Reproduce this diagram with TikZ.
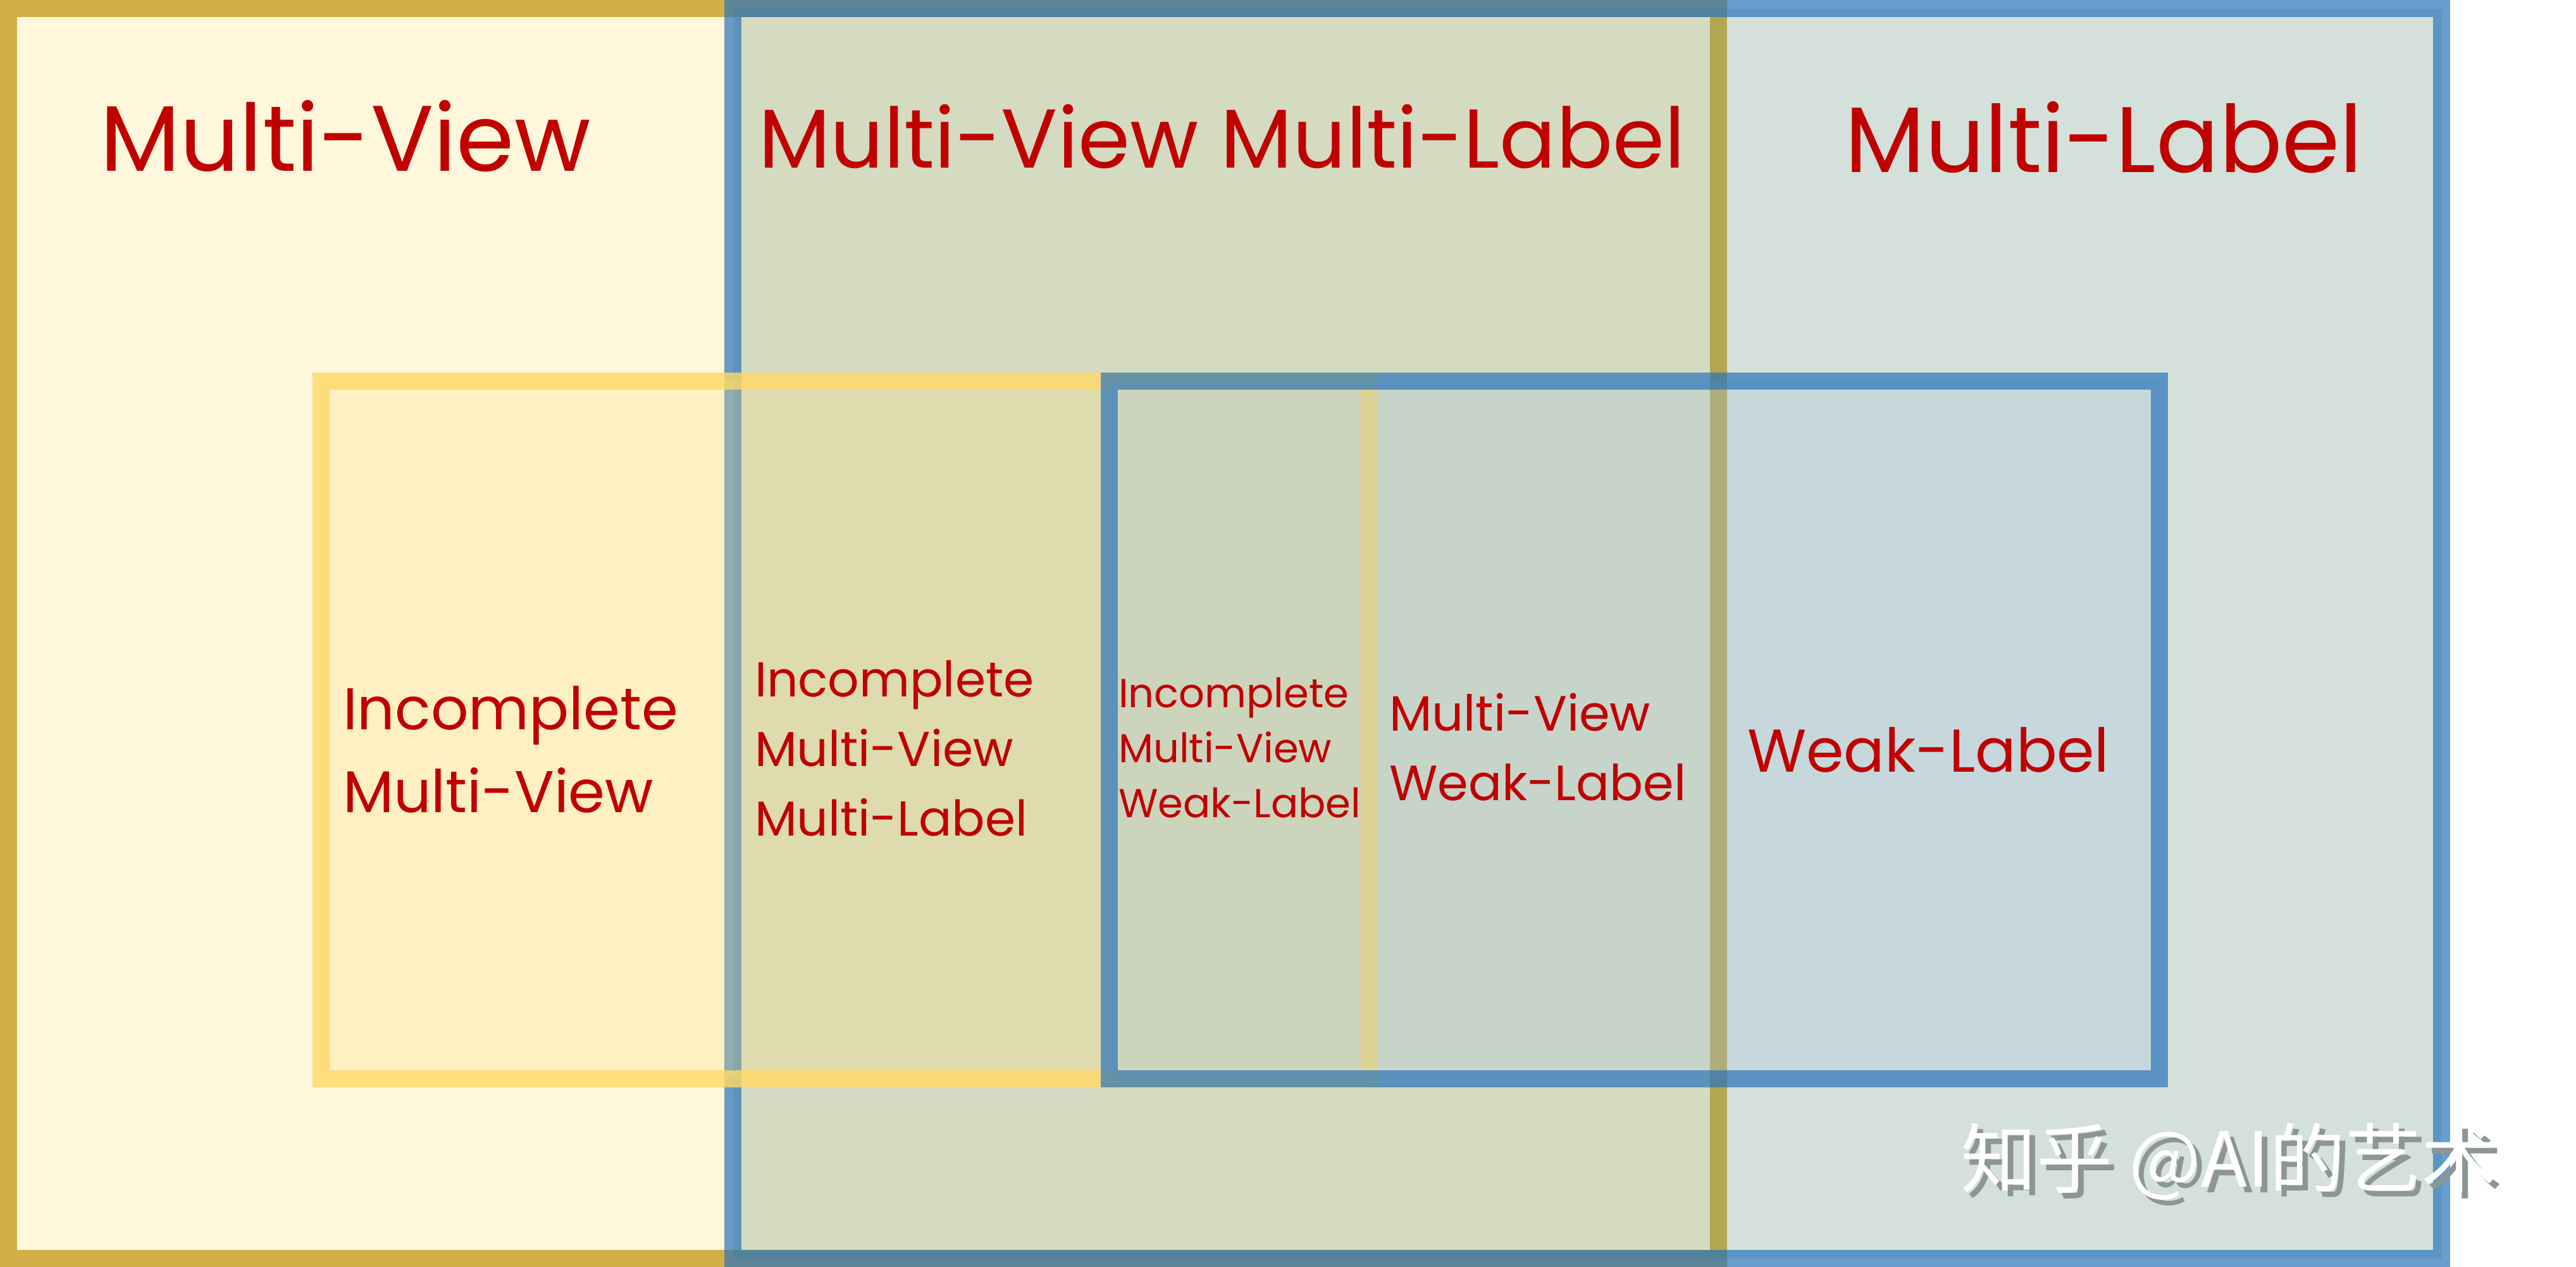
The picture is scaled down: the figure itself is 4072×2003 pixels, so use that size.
\documentclass[tikz,border=0pt]{standalone}
\usepackage{fontspec}
\setmainfont{Poppins}
\newfontfamily\cjkwm{Noto Sans CJK SC}
\definecolor{mvfill}{RGB}{255,247,220}
\definecolor{mvdraw}{RGB}{212,175,71}
\definecolor{mlfill}{RGB}{84,136,112}
\definecolor{bluedraw}{RGB}{42,116,186}
\definecolor{imvfill}{RGB}{252,222,128}
\definecolor{imvdraw}{RGB}{255,217,102}
\definecolor{wlfill}{RGB}{166,198,223}
\definecolor{txtred}{RGB}{192,0,0}
\definecolor{wmshadow}{RGB}{140,150,148}
\newcommand{\wmtext}{知乎 @AI的艺术}
\begin{document}
\begin{tikzpicture}[x=0.25pt,y=-0.25pt,
  box/.style={line width=6.75pt, line join=miter},
  lbl/.style={text=txtred, inner sep=0pt, outer sep=0pt, anchor=base west},
  big/.style={font=\fontsize{36.8}{42}\selectfont},
  mid/.style={font=\fontsize{33}{38}\selectfont},
  fsA/.style={font=\fontsize{23.3}{28}\selectfont},
  fsB/.style={font=\fontsize{19.4}{23}\selectfont},
  fsC/.style={font=\fontsize{16.0}{20}\selectfont},
  fsD/.style={font=\fontsize{19.6}{23}\selectfont},
  fsE/.style={font=\fontsize{23.9}{28}\selectfont},
  wm/.style={inner sep=0pt, outer sep=0pt, anchor=base west, font=\cjkwm\fontsize{30}{34}\selectfont}]
\useasboundingbox (0,0) rectangle (4072,2003);
\fill[white] (0,0) rectangle (4072,2003);
% Multi-View (big yellow)
\draw[box, draw=mvdraw, fill=mvfill] (13.5,13.5) rectangle (2716.5,1989.5);
% Multi-Label (big blue)
\draw[box, draw=bluedraw, draw opacity=0.7, fill=mlfill, fill opacity=0.25] (1158.5,13.5) rectangle (3859.5,1989.5);
% Incomplete Multi-View (inner yellow)
\draw[box, draw=imvdraw, draw opacity=0.8, fill=imvfill, fill opacity=0.27] (507.5,602.5) rectangle (2164.5,1705);
% Weak-Label (inner blue)
\draw[box, draw=bluedraw, draw opacity=0.7, fill=wlfill, fill opacity=0.3] (1753.5,602.5) rectangle (3413.5,1705);
% titles
\node[lbl, big] (mv) at (158,270) {Multi-View};
\node[lbl, mid] (mvml) at (1199,265) {Multi-View Multi-Label};
\node[lbl, big, anchor=base east] (ml) at (3735,272) {Multi-Label};
% Incomplete Multi-View
\node[lbl, fsA] (imv1) at (542,1153) {Incomplete};
\node[lbl, fsA] (imv2) at (542,1284) {Multi-View};
% Incomplete Multi-View Multi-Label
\node[lbl, fsB] (imvml1) at (1193,1101) {Incomplete};
\node[lbl, fsB] (imvml2) at (1193,1211) {Multi-View};
\node[lbl, fsB] (imvml3) at (1193,1321) {Multi-Label};
% Incomplete Multi-View Weak-Label
\node[lbl, fsC] (imvwl1) at (1768,1118) {Incomplete};
\node[lbl, fsC] (imvwl2) at (1768,1205) {Multi-View};
\node[lbl, fsC] (imvwl3) at (1768,1292) {Weak-Label};
% Multi-View Weak-Label
\node[lbl, fsD] (mvwl1) at (2196,1155) {Multi-View};
\node[lbl, fsD] (mvwl2) at (2196,1265) {Weak-Label};
% Weak-Label
\node[lbl, fsE] (wl) at (2762,1220) {Weak-Label};
% watermark (white text with grey drop shadow, one node)
\node[wm] (wmark) at (3099,1876) {\makebox[0pt][l]{\hspace{2.25pt}\raisebox{-2.25pt}{\color{wmshadow}\wmtext}}\color{white}\wmtext};
\end{tikzpicture}
\end{document}
